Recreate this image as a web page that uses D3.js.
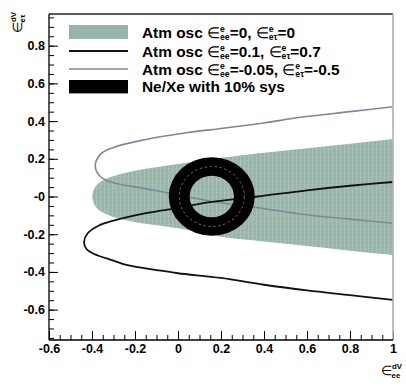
<!DOCTYPE html>
<html>
<head>
<meta charset="utf-8">
<script src="https://cdn.jsdelivr.net/npm/d3@7"></script>
<style>
  body { margin: 0; background: #fff; }
  text { font-family: "Liberation Sans", Arial, sans-serif; font-weight: bold; }
</style>
</head>
<body>
<div id="chart"></div>
<script>
// data
const xMajor = [-0.6, -0.4, -0.2, 0, 0.2, 0.4, 0.6, 0.8, 1];
const xLabels = ["-0.6", "-0.4", "-0.2", "0", "0.2", "0.4", "0.6", "0.8", "1"];
const xMinor = d3.range(-0.6, 1.0001, 0.05);
const yMajor = [-0.6, -0.4, -0.2, 0, 0.2, 0.4, 0.6, 0.8];
const yLabels = ["-0.6", "-0.4", "-0.2", "-0", "0.2", "0.4", "0.6", "0.8"];
const yMinor = d3.range(-0.75, 0.96, 0.05);

// shaded atm osc region (eps_ee=0, eps_et=0)
const bandX     = [-0.40, -0.39, -0.37, -0.33, -0.28, -0.20, -0.10, 0.00, 0.10, 0.20, 0.40, 0.60, 0.80, 1.00];
const bandUpper = [ 0.00,  0.04,  0.07,  0.095, 0.115, 0.137, 0.155, 0.172, 0.19, 0.205, 0.232, 0.256, 0.28, 0.305];
const bandLower = [ 0.00, -0.04, -0.07, -0.095, -0.115, -0.135, -0.152, -0.168, -0.19, -0.213, -0.238, -0.262, -0.287, -0.31];

// black contour (0.1, 0.7)
const blackCurve = [[1.0, 0.077], [0.8, 0.057], [0.6, 0.033], [0.37, 0.0], [0.15, -0.03], [-0.05, -0.07],
  [-0.2, -0.1], [-0.3, -0.128], [-0.37, -0.155], [-0.42, -0.195], [-0.437, -0.24], [-0.425, -0.28],
  [-0.39, -0.305], [-0.3, -0.34], [-0.24, -0.363], [-0.1, -0.39], [0.0, -0.407], [0.2, -0.432],
  [0.4, -0.468], [0.6, -0.498], [0.8, -0.523], [1.0, -0.548]];

// gray contour (-0.05, -0.5)
const grayCurve = [[1.0, 0.476], [0.8, 0.45], [0.57, 0.42], [0.4, 0.39], [0.21, 0.362], [0.04, 0.338],
  [-0.16, 0.30], [-0.3, 0.26], [-0.36, 0.225], [-0.385, 0.165], [-0.365, 0.11], [-0.316, 0.078],
  [-0.16, 0.043], [-0.037, 0.017], [0.164, -0.028], [0.366, -0.058], [0.567, -0.093], [0.8, -0.12], [1.0, -0.142]];

// Ne/Xe ring
const ringCenter = [0.157, 0.0];
const ringOuter = [0.2, 0.208];
const ringInner = [0.103, 0.11];

const width = 406, height = 388;
const frame = {left: 49, right: 393, top: 14, bottom: 340};

const svg = d3.select("#chart").append("svg")
    .attr("width", width)
    .attr("height", height);

const x = d3.scaleLinear().domain([-0.6, 1]).range([frame.left, frame.right]);
const y = d3.scaleLinear().domain([-0.761, 0.968]).range([frame.bottom, frame.top]);

const defs = svg.append("defs");
defs.append("clipPath").attr("id", "clip")
  .append("rect")
    .attr("x", frame.left).attr("y", frame.top)
    .attr("width", frame.right - frame.left).attr("height", frame.bottom - frame.top);

// fine texture like the original fill
const pat = defs.append("pattern").attr("id", "tex")
    .attr("width", 4).attr("height", 4).attr("patternUnits", "userSpaceOnUse");
pat.append("rect").attr("width", 4).attr("height", 4).attr("fill", "#98b5ab");
pat.append("rect").attr("x", 0).attr("width", 1).attr("height", 4).attr("fill", "#a9c3b9");
pat.append("rect").attr("y", 0).attr("width", 4).attr("height", 1).attr("fill", "#a3beb4").attr("opacity", 0.6);

const plot = svg.append("g").attr("clip-path", "url(#clip)");

// shaded band
const area = d3.area()
    .x((d, i) => x(bandX[i]))
    .y0((d, i) => y(bandLower[i]))
    .y1((d, i) => y(bandUpper[i]))
    .curve(d3.curveCatmullRom.alpha(0.5));
plot.append("path")
    .datum(bandX)
    .attr("d", area)
    .attr("fill", "url(#tex)");

const line = d3.line()
    .x(d => x(d[0]))
    .y(d => y(d[1]))
    .curve(d3.curveCatmullRom.alpha(0.5));

plot.append("path")
    .datum(grayCurve)
    .attr("d", line)
    .attr("fill", "none")
    .attr("stroke", "#7b8898")
    .attr("stroke-width", 1.6);

plot.append("path")
    .datum(blackCurve)
    .attr("d", line)
    .attr("fill", "none")
    .attr("stroke", "#111")
    .attr("stroke-width", 1.8);

// ring
function ellipsePath(cx, cy, rx, ry) {
  return `M${cx - rx},${cy}A${rx},${ry} 0 1,0 ${cx + rx},${cy}A${rx},${ry} 0 1,0 ${cx - rx},${cy}Z`;
}
const cx = x(ringCenter[0]), cy = y(ringCenter[1]);
const rxo = x(ringCenter[0] + ringOuter[0]) - cx, ryo = cy - y(ringCenter[1] + ringOuter[1]);
const rxi = x(ringCenter[0] + ringInner[0]) - cx, ryi = cy - y(ringCenter[1] + ringInner[1]);
plot.append("path")
    .attr("d", ellipsePath(cx, cy, rxo, ryo) + ellipsePath(cx, cy, rxi, ryi))
    .attr("fill", "#000")
    .attr("fill-rule", "evenodd");
plot.append("ellipse")
    .attr("cx", cx).attr("cy", cy)
    .attr("rx", (rxo + rxi) / 2).attr("ry", (ryo + ryi) / 2)
    .attr("fill", "none")
    .attr("stroke", "#9a9a9a")
    .attr("stroke-width", 0.7)
    .attr("stroke-dasharray", "2.5,2.5");

// axes
function styleAxis(g) {
  g.select(".domain").remove();
  g.selectAll("line").attr("stroke", "#000");
  g.selectAll("text")
    .attr("font-family", "'Liberation Sans', Arial, sans-serif")
    .attr("font-weight", "bold")
    .attr("font-size", 12.5)
    .attr("fill", "#000");
}

svg.append("g")
    .attr("transform", `translate(0,${frame.bottom})`)
    .call(d3.axisBottom(x).tickValues(xMinor).tickSize(-5).tickFormat(""))
    .call(styleAxis);
svg.append("g")
    .attr("transform", `translate(0,${frame.bottom})`)
    .call(d3.axisBottom(x).tickValues(xMajor).tickSize(-9).tickPadding(4)
      .tickFormat((d, i) => xLabels[i]))
    .call(styleAxis);

svg.append("g")
    .attr("transform", `translate(${frame.left},0)`)
    .call(d3.axisLeft(y).tickValues(yMinor).tickSize(-5).tickFormat(""))
    .call(styleAxis);
svg.append("g")
    .attr("transform", `translate(${frame.left},0)`)
    .call(d3.axisLeft(y).tickValues(yMajor).tickSize(-9).tickPadding(4)
      .tickFormat((d, i) => yLabels[i]))
    .call(styleAxis);

// frame
svg.append("line").attr("x1", frame.left).attr("x2", frame.right).attr("y1", frame.top).attr("y2", frame.top)
    .attr("stroke", "#222").attr("stroke-width", 1.3);
svg.append("line").attr("x1", frame.right).attr("x2", frame.right).attr("y1", frame.top).attr("y2", frame.bottom)
    .attr("stroke", "#b0b0b0").attr("stroke-width", 1.6);
svg.append("line").attr("x1", frame.left).attr("x2", frame.left).attr("y1", frame.top).attr("y2", frame.bottom)
    .attr("stroke", "#000").attr("stroke-width", 1.3);
svg.append("line").attr("x1", frame.left).attr("x2", frame.right).attr("y1", frame.bottom).attr("y2", frame.bottom)
    .attr("stroke", "#000").attr("stroke-width", 1.3);

// epsilon with stacked super/subscript
function eps(t, sup, sub, fs, up, down) {
  t.append("tspan").attr("font-weight", "normal").attr("font-size", fs).text("∈");
  const s = t.append("tspan").attr("dy", -up).attr("font-size", fs * 0.6).text(sup);
  const w = s.node().getComputedTextLength();
  t.append("tspan").attr("dx", -w).attr("dy", up + down).attr("font-size", fs * 0.6).text(sub);
  return down;
}
function plain(t, str, dy) {
  t.append("tspan").attr("dy", dy || 0).text(str);
}

// axis titles
const yt = svg.append("text")
    .attr("transform", "translate(22,33) rotate(-90)")
    .attr("font-size", 13);
eps(yt, "dV", "eτ", 13, 6, 3);

const xt = svg.append("text")
    .attr("x", 381).attr("y", 375)
    .attr("font-size", 13);
eps(xt, "dV", "ee", 13, 6, 3);

// legend
const legendLabels = [
  ["Atm osc ", ["e", "ee"], "=0, ", ["e", "eτ"], "=0"],
  ["Atm osc ", ["e", "ee"], "=0.1, ", ["e", "eτ"], "=0.7"],
  ["Atm osc ", ["e", "ee"], "=-0.05, ", ["e", "eτ"], "=-0.5"],
  ["Ne/Xe with 10% sys"]
];
const legendY = [32, 51, 69, 86.7];
const legend = svg.append("g");

legend.append("rect").attr("x", 69).attr("y", legendY[0] - 7).attr("width", 59).attr("height", 14)
    .attr("fill", "#96b4aa");
legend.append("line").attr("x1", 69).attr("x2", 128).attr("y1", legendY[1]).attr("y2", legendY[1])
    .attr("stroke", "#111").attr("stroke-width", 1.8);
legend.append("line").attr("x1", 69).attr("x2", 128).attr("y1", legendY[2]).attr("y2", legendY[2])
    .attr("stroke", "#7b8898").attr("stroke-width", 1.6);
legend.append("rect").attr("x", 69).attr("y", legendY[3] - 6.7).attr("width", 59).attr("height", 13.4)
    .attr("fill", "#000");

legendLabels.forEach((parts, i) => {
  const t = legend.append("text")
      .attr("x", 142)
      .attr("y", legendY[i] + 5.5)
      .attr("font-size", 15.4);
  let carry = 0;
  parts.forEach(p => {
    if (typeof p === "string") {
      plain(t, p, -carry);
      carry = 0;
    } else {
      t.append("tspan").attr("dy", -carry).text("");
      carry = eps(t, p[0], p[1], 14.5, 5.5, 2.5);
    }
  });
});
</script>
</body>
</html>
